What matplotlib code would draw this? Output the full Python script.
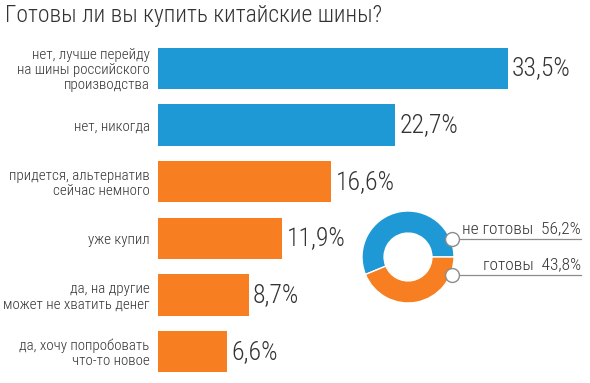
import matplotlib
matplotlib.use("Agg")
import matplotlib.pyplot as plt

plt.rcParams["font.family"] = ["Roboto Condensed", "DejaVu Sans"]
plt.rcParams["font.weight"] = "light"

# данные
title = "Готовы ли вы купить китайские шины?"
answers = [
    "нет, лучше перейду\nна шины российского\nпроизводства",
    "нет, никогда",
    "придется, альтернатив\nсейчас немного",
    "уже купил",
    "да, на другие\nможет не хватить денег",
    "да, хочу попробовать\nчто-то новое",
]
shares = [33.5, 22.7, 16.6, 11.9, 8.7, 6.6]
ready = [False, False, True, True, True, True]

donut_labels = ["не готовы", "готовы"]
donut_values = [56.2, 43.8]

BLUE = "#1f98d6"
ORANGE = "#f77f21"
TXT = "#333333"

W, H = 590, 383
fig = plt.figure(figsize=(W / 100, H / 100), dpi=100)

def px_rect(x0, y0, x1, y1):
    # пиксели сверху-слева -> доли фигуры
    return [x0 / W, 1 - y1 / H, (x1 - x0) / W, (y1 - y0) / H]

fig.text(5 / W, 1 - 4 / H, title, ha="left", va="top", fontsize=17,
         fontweight="light", color=TXT)

# --- столбцы
ax = fig.add_axes(px_rect(158, 40, 590, 380))
colors = [ORANGE if r else BLUE for r in ready]
ax.barh(range(len(shares)), shares, height=0.725, color=colors)
ax.set_xlim(0, 432 / 10.45)
ax.set_ylim(len(shares) - 0.5, -0.5)
ax.set_yticks(range(len(answers)), answers, fontweight="light")
ax.tick_params(axis="y", length=0, pad=6, labelsize=10.8, labelcolor=TXT)
for lab in ax.get_yticklabels():
    lab.set_linespacing(1.08)
ax.set_xticks([])
for s in ax.spines.values():
    s.set_visible(False)
ax.patch.set_visible(False)

for i, v in enumerate(shares):
    ax.annotate(f"{v:.1f}%".replace(".", ","), (v, i), xytext=(3, 0),
                textcoords="offset points", ha="left", va="center",
                fontsize=18.5, fontweight="light", color=TXT)

# --- кольцо
dax = fig.add_axes(px_rect(358, 207, 458, 307))
dax.pie(donut_values, colors=[BLUE, ORANGE], startangle=0, counterclock=True,
        radius=1.0, wedgeprops=dict(width=0.48, edgecolor="white", linewidth=1))
dax.set_xlim(-50 / 46, 50 / 46)
dax.set_ylim(-50 / 46, 50 / 46)
dax.set_aspect("equal")
dax.axis("off")

line_x_end = (581 - 408) / 46
for lab, val, yy in zip(donut_labels, donut_values, [0.39, -0.39]):
    dax.plot([0.95, line_x_end], [yy, yy], color="#8c8c8c", lw=0.9,
             clip_on=False, zorder=3)
    dax.plot([0.95], [yy], marker="o", markersize=10, mfc="white",
             mec="#8c8c8c", mew=1.0, clip_on=False, zorder=4)
    dax.text(line_x_end, yy + 0.07, f"{lab}  {val:.1f}%".replace(".", ","),
             ha="right", va="bottom", fontsize=12.5, fontweight="light",
             color=TXT, clip_on=False)

fig.savefig("out.png", dpi=100)
